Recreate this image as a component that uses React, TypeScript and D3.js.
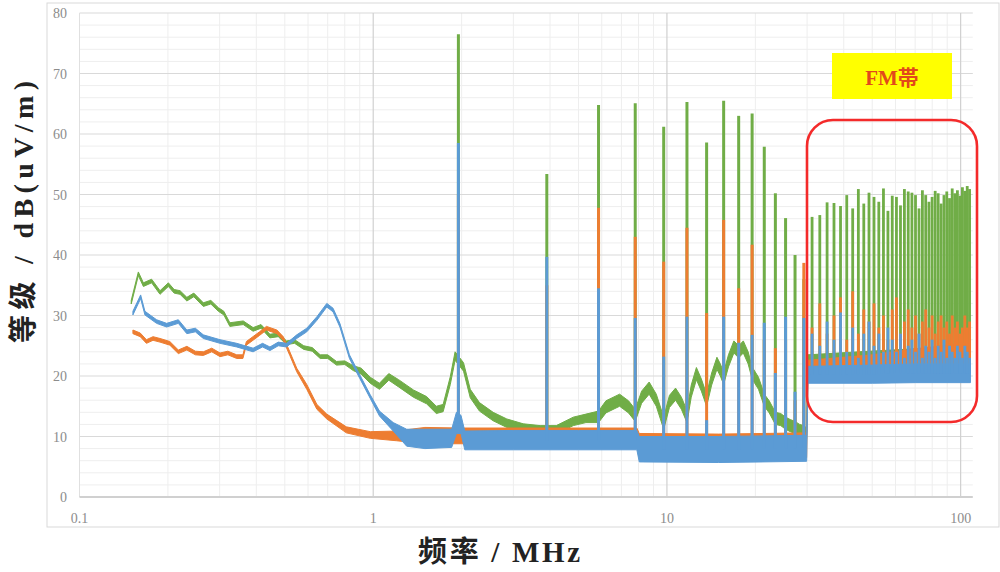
import React from "react";
import * as d3 from "d3";

// ---------- DATA ----------
// Tick values
const X_TICKS = [0.1, 1, 10, 100];
const X_TICK_LABELS = ["0.1", "1", "10", "100"];
const Y_TICKS = [0, 10, 20, 30, 40, 50, 60, 70, 80];

// Trace envelopes: [frequency MHz, low dB, high dB]
const GREEN_BAND: [number, number, number][] = [
  [0.15, 31.9, 32.5], [0.1586, 36.6, 37.2], [0.165, 34.8, 35.4], [0.176, 35.4, 36.0],
  [0.188, 33.5, 34.1], [0.2007, 34.8, 35.4], [0.21, 33.7, 34.3], [0.22, 33.5, 34.1],
  [0.232, 32.4, 33.0], [0.245, 33.1, 33.7], [0.264, 31.5, 32.1], [0.28, 31.9, 32.5],
  [0.297, 30.7, 31.3], [0.31, 30.1, 30.7], [0.325, 28.2, 28.8], [0.361, 28.5, 29.1],
  [0.39, 27.4, 28.0], [0.415, 27.9, 28.5], [0.445, 26.3, 26.9], [0.475, 26.5, 27.1],
  [0.507, 25.2, 25.8], [0.54, 25.4, 26.0], [0.58, 24.4, 25.0], [0.62, 24.1, 24.7],
  [0.66, 22.9, 23.5], [0.7, 22.9, 23.5], [0.75, 21.8, 22.4], [0.8, 21.9, 22.5],
  [0.855, 20.9, 21.7], [0.91, 20.3, 21.3], [0.977, 18.8, 19.8], [1.05, 17.8, 18.8],
  [1.13, 19.3, 20.4], [1.22, 18.2, 19.4], [1.37, 16.5, 17.7], [1.52, 15.4, 16.6],
  [1.64, 13.8, 15.0], [1.73, 14.1, 15.3], [1.83, 18.6, 19.9], [1.9, 22.6, 24.0],
  [2.03, 20.8, 22.2], [2.14, 16.4, 17.8], [2.3, 14.2, 15.6], [2.56, 12.6, 14.0],
  [2.85, 11.5, 12.9], [3.24, 10.7, 12.1], [3.7, 10.4, 11.8], [4.2, 10.4, 11.8],
  [4.8, 11.8, 13.2], [5.3, 12.3, 13.7], [5.85, 12.3, 14.2], [6.2, 13.9, 15.9],
  [6.9, 15.0, 17.0], [7.4, 13.9, 15.9], [7.8, 12.5, 14.5], [8.2, 15.5, 17.5],
  [8.7, 17.0, 19.0], [9.2, 15.0, 17.0], [9.75, 11.2, 13.2], [10.2, 14.8, 16.8],
  [10.7, 16.0, 18.0], [11.2, 14.5, 16.5], [11.7, 12.3, 14.3], [12.1, 16.5, 18.5],
  [12.6, 19.4, 21.4], [13.1, 17.5, 19.5], [13.65, 15.0, 17.0], [14.2, 18.5, 20.5],
  [14.8, 21.1, 23.1], [15.2, 20.0, 22.0], [15.6, 18.6, 20.6], [16.2, 21.5, 23.5],
  [16.9, 23.8, 25.8], [17.55, 23.0, 25.0], [18.2, 23.8, 25.8], [18.9, 22.0, 24.0],
  [19.5, 19.5, 21.5], [20.5, 17.8, 19.8], [21.45, 15.0, 17.0], [22.3, 13.9, 15.9],
  [23.4, 12.0, 14.0], [24.4, 11.8, 13.8], [25.35, 11.2, 13.2], [26.3, 10.8, 12.8],
  [27.3, 10.5, 12.5], [28.3, 10.0, 12.0], [29.25, 9.8, 11.8], [29.9, 9.6, 11.4],
  [30.2, 21.0, 23.5], [45, 21.5, 24.0], [70, 22.0, 24.5], [108, 22.0, 25.0],
];

const ORANGE_BAND: [number, number, number][] = [
  [0.152, 27.0, 27.6], [0.161, 26.5, 27.1], [0.169, 25.4, 26.0], [0.178, 25.9, 26.5],
  [0.188, 25.6, 26.2], [0.203, 25.1, 25.7], [0.217, 23.7, 24.3], [0.232, 24.3, 24.9],
  [0.248, 23.5, 24.1], [0.264, 23.4, 24.0], [0.282, 24.0, 24.6], [0.301, 23.2, 23.8],
  [0.32, 23.5, 24.1], [0.343, 22.9, 23.5], [0.36, 22.9, 23.5], [0.37, 25.1, 25.7],
  [0.41, 26.7, 27.3], [0.433, 27.6, 28.2], [0.47, 27.0, 27.6], [0.494, 25.9, 26.5],
  [0.52, 23.4, 24.0], [0.549, 20.7, 21.3], [0.594, 17.8, 18.6], [0.643, 14.5, 15.3],
  [0.695, 12.9, 13.7], [0.81, 10.6, 11.6], [0.977, 9.7, 10.8], [1.2, 9.3, 10.9],
  [1.5, 8.8, 11.5], [2.0, 8.8, 11.4], [3.0, 8.7, 11.4], [5.0, 8.6, 11.4],
  [7.9, 8.6, 11.4], [8.05, 6.4, 10.5], [15, 6.3, 10.4], [29.9, 6.5, 10.6],
  [30.2, 20.0, 22.6], [50, 20.5, 23.5], [70, 21.0, 24.5], [108, 21.5, 25.5],
];

const BLUE_BAND: [number, number, number][] = [
  [0.152, 30.1, 30.7], [0.1615, 32.8, 33.4], [0.167, 30.1, 30.7], [0.183, 28.7, 29.3],
  [0.198, 28.1, 28.7], [0.217, 28.7, 29.3], [0.232, 27.0, 27.6], [0.248, 27.3, 27.9],
  [0.264, 26.2, 26.8], [0.301, 25.4, 26.0], [0.343, 24.8, 25.4], [0.39, 24.0, 24.6],
  [0.42, 24.8, 25.4], [0.445, 24.2, 24.8], [0.475, 25.0, 25.6], [0.507, 24.8, 25.4],
  [0.549, 26.2, 26.8], [0.594, 27.3, 27.9], [0.643, 29.2, 29.8], [0.695, 31.4, 32.0],
  [0.73, 30.6, 31.2], [0.77, 28.1, 28.7], [0.83, 22.9, 23.5], [0.9, 19.6, 20.2],
  [0.977, 16.3, 16.9], [1.05, 13.4, 14.2], [1.17, 10.9, 12.3], [1.3, 8.4, 11.2],
  [1.5, 8.0, 11.2], [1.85, 8.2, 11.2], [1.92, 10.5, 14.0], [1.99, 10.5, 13.5],
  [2.05, 7.8, 10.9], [3.0, 7.8, 11.0], [5.0, 7.8, 11.0], [7.9, 7.8, 11.0],
  [8.05, 5.8, 10.0], [15, 5.7, 10.0], [29.9, 5.9, 10.2], [30.2, 18.8, 21.6],
  [50, 18.8, 21.8], [70, 18.9, 22.0], [108, 18.9, 22.0],
];

// Narrow emission spikes (harmonics)
const SPIKE_FREQS = [
  1.95, 3.9, 5.85, 7.8, 9.75, 11.7, 13.65, 15.6, 17.55, 19.5, 21.45, 23.4, 25.35, 27.3, 29.25,
  31.2, 33.15, 35.1, 37.05, 39.0, 40.95, 42.9, 44.85, 46.8, 48.75, 50.7, 52.65, 54.6, 56.55,
  58.5, 60.45, 62.4, 64.35, 66.3, 68.25, 70.2, 72.15, 74.1, 76.05, 78.0, 79.95, 81.9, 83.85,
  85.8, 87.75, 89.7, 91.65, 93.6, 95.55, 97.5, 99.45, 101.4, 103.35, 105.3, 107.25,
];
const GREEN_PEAKS = [
  76.5, 53.4, 64.8, 65.1, 61.2, 65.3, 58.6, 65.5, 63.0, 63.4, 57.9, 50.2, 46.1, 40.0, 36.0,
  46.3, 46.6, 48.7, 48.6, 48.1, 49.9, 47.7, 50.9, 48.5, 50.3, 49.6, 48.8, 51.0, 47.3,
  49.8, 49.6, 48.2, 50.9, 50.5, 50.3, 49.9, 47.7, 50.7, 49.9, 48.8, 49.6, 50.6, 50.2,
  48.5, 49.9, 50.5, 49.4, 51.0, 50.2, 50.7, 49.8, 51.2, 50.6, 51.4, 50.9,
];
const ORANGE_PEAKS = [
  50.0, 35.0, 47.8, 43.0, 38.9, 44.5, 30.4, 45.8, 34.5, 41.7, 26.0, 24.6, 26.0, 16.0, 38.7,
  28, 32, 27, 30, 33, 26, 34, 27, 31, 29, 32, 28, 30, 26,
  31, 33, 27, 29, 31, 28, 30, 27, 29, 31, 28, 30, 27, 29,
  30, 28, 29, 27, 30, 28, 29, 27, 28, 30, 28, 29,
];
const BLUE_PEAKS = [
  58.5, 39.7, 34.5, 29.6, 23.2, 29.8, 12.7, 29.8, 25.5, 26.8, 28.8, 20.5, 29.8, 17.4, 29.6,
  27, 25, 29, 26, 30.5, 24, 28, 23, 27, 29, 25, 27, 24, 28,
  26, 24, 27, 23, 25, 26, 24, 27, 23, 25, 24, 26, 23, 25,
  24, 26, 23, 25, 24, 23, 25, 24, 23, 25, 24, 23,
];

// ---------- CHART ----------
const W = 1000;
const H = 572;
const GREEN = "#70ad47";
const ORANGE = "#ed7d31";
const BLUE = "#5b9bd5";

const x = d3.scaleLog().domain([0.1, 110]).range([79.5, 972.8]);
const y = d3.scaleLinear().domain([0, 80]).range([497, 13]);

const area = d3
  .area<[number, number, number]>()
  .x((d) => x(d[0]))
  .y0((d) => y(d[1]))
  .y1((d) => y(d[2]));

function baseAt(band: [number, number, number][], f: number) {
  const i = d3.bisector((d: [number, number, number]) => d[0]).right(band, f);
  const a = band[Math.max(0, i - 1)];
  const b = band[Math.min(band.length - 1, i)];
  if (a === b) return (a[1] + a[2]) / 2;
  const t = (Math.log(f) - Math.log(a[0])) / (Math.log(b[0]) - Math.log(a[0]));
  return (a[1] + a[2]) / 2 + t * ((b[1] + b[2]) / 2 - (a[1] + a[2]) / 2);
}

function Series({ band, peaks, color }: { band: [number, number, number][]; peaks: number[]; color: string }) {
  return (
    <g>
      <path d={area(band) || ""} fill={color} stroke={color} strokeWidth={1} strokeLinejoin="round" />
      {SPIKE_FREQS.map((f, i) => {
        if (f > band[band.length - 1][0]) return null;
        const b = baseAt(band, f);
        const p = peaks[i];
        if (p <= b) return null;
        return (
          <line
            key={i}
            x1={x(f)}
            x2={x(f)}
            y1={y(b)}
            y2={y(p)}
            stroke={color}
            strokeWidth={f < 30 ? 3 : 2.8}
          />
        );
      })}
    </g>
  );
}

export default function App() {
  const minorY = d3.range(0, 81, 2).filter((v) => v % 10 !== 0);
  const minorX: number[] = [];
  [0.1, 1, 10].forEach((dec) => {
    for (let k = 2; k <= 9; k++) minorX.push(dec * k);
  });
  const [x0, x1] = x.range();
  const [yb, yt] = y.range();
  const tickFont = "'Liberation Serif', 'DejaVu Serif', serif";
  const titleFont = "'Liberation Serif', 'Noto Sans CJK SC', serif";
  return (
    <svg width={W} height={H} style={{ position: "absolute", left: 0, top: 0, background: "#fff" }}>
      <rect x={0} y={0} width={W} height={H} fill="#fff" />
      <rect x={47} y={3} width={952} height={524} fill="#fff" stroke="#d9d9d9" strokeWidth={1} />

      {/* minor grid */}
      {minorY.map((v) => (
        <line key={"my" + v} x1={x0} x2={x1} y1={y(v)} y2={y(v)} stroke="#eeeeee" strokeWidth={1} />
      ))}
      {minorX.map((v) => (
        <line key={"mx" + v} x1={x(v)} x2={x(v)} y1={yb} y2={yt} stroke="#eeeeee" strokeWidth={1} />
      ))}
      {/* major grid */}
      {Y_TICKS.filter((v) => v > 0).map((v) => (
        <line key={"gy" + v} x1={x0} x2={x1} y1={y(v)} y2={y(v)} stroke="#d9d9d9" strokeWidth={1.2} />
      ))}
      {X_TICKS.filter((v) => v > 0.1).map((v) => (
        <line key={"gx" + v} x1={x(v)} x2={x(v)} y1={yb} y2={yt} stroke="#d0d0d0" strokeWidth={1.2} />
      ))}
      <line x1={x0} x2={x0} y1={yb} y2={yt} stroke="#e0e0e0" strokeWidth={1} />
      <line x1={x0} x2={x1} y1={yb} y2={yb} stroke="#d0d0d0" strokeWidth={2} />

      {/* tick labels */}
      {Y_TICKS.map((v) => (
        <text key={"ty" + v} x={67} y={y(v) + 5} textAnchor="end" fontFamily={tickFont} fontSize={14} fill="#8c8c8c">
          {v}
        </text>
      ))}
      {X_TICKS.map((v, i) => (
        <text key={"tx" + v} x={x(v)} y={523} textAnchor="middle" fontFamily={tickFont} fontSize={14} fill="#8c8c8c">
          {X_TICK_LABELS[i]}
        </text>
      ))}

      {/* data */}
      <Series band={GREEN_BAND} peaks={GREEN_PEAKS} color={GREEN} />
      <Series band={ORANGE_BAND} peaks={ORANGE_PEAKS} color={ORANGE} />
      <Series band={BLUE_BAND} peaks={BLUE_PEAKS} color={BLUE} />

      {/* FM annotation */}
      <rect x={807} y={120} width={170} height={302} rx={26} ry={26} fill="none" stroke="#f42a2a" strokeWidth={2.6} />
      <rect x={832} y={53} width={120} height={46} fill="#ffff00" />
      <text x={892} y={85} textAnchor="middle" fontFamily={titleFont} fontWeight="bold" fontSize={21} fill="#e2491a">
        FM帯
      </text>

      {/* axis titles */}
      <text
        x={499}
        y={562}
        textAnchor="middle"
        fontFamily={titleFont}
        fontWeight="bold"
        fontSize={29}
        fill="#222"
        textLength={162}
        lengthAdjust="spacing"
      >
        频率 / MHz
      </text>
      <text
        transform="translate(33,212) rotate(-90)"
        textAnchor="middle"
        fontFamily={titleFont}
        fontWeight="bold"
        fontSize={28}
        fill="#222"
        textLength={262}
        lengthAdjust="spacing"
      >
        等级 / dB(uV/m)
      </text>
    </svg>
  );
}
